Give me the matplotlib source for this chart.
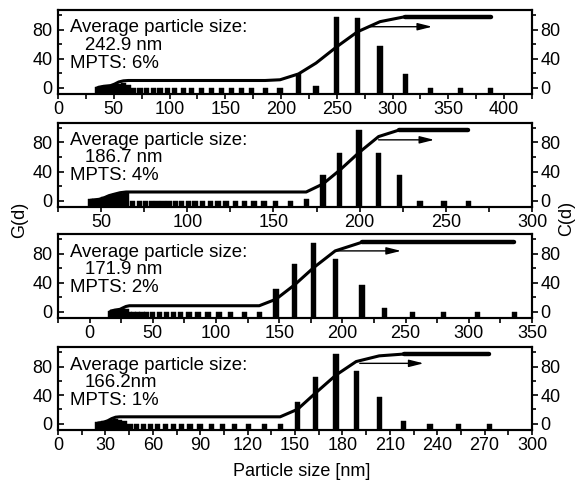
import matplotlib
matplotlib.use("Agg")
import matplotlib.pyplot as plt
from matplotlib.ticker import MultipleLocator

plt.rcParams['font.family'] = ['Liberation Sans', 'DejaVu Sans']

# ---------------- data ----------------
# Panel 1 (MPTS 6%)
g1_x = [35.3, 38.0, 40.8, 43.9, 47.2, 50.7, 54.5, 58.6, 63.0, 67.7, 73.6, 79.6, 85.5,
        91.5, 98.4, 104.3, 112.4, 119.9, 128.9, 137.9, 146.8, 155.8, 164.2, 173.7,
        185.7, 199.1, 215.6, 231.4, 250.0, 268.5, 288.8, 311.3, 334.3, 360.6, 388.1]
g1_y = [1, 2, 2, 3, 3, 4, 5, 6, 4, 0, 0, 0, 0,
        0, 0, 0, 0, 0, 0, 0, 0, 0, 0, 0,
        0, 0, 19, 2.5, 97, 95.6, 58, 19, 0, 0, 0]
c1_x = [35.3, 40.8, 47.2, 50.7, 54.5, 58.6, 63.0, 185.7, 199.1, 215.6, 231.4, 250.0,
        268.5, 288.8, 311.3, 334.3, 360.6, 388.1]
c1_y = [0, 2, 3, 5, 8, 9.5, 10, 10, 11, 19, 34, 56.5, 77, 91, 97.8, 97.8, 97.8, 97.8]

# Panel 2 (MPTS 4%)
g2_x = [43.7, 46.2, 48.9, 51.7, 54.6, 57.7, 61.0, 64.5, 68.3, 72.3, 75.8, 79.1, 82.4,
        85.9, 89.4, 93.2, 96.7, 100.6, 104.5, 108.8, 113.3, 117.8, 122.5, 127.9,
        133.2, 138.7, 144.5, 151.4, 160.0, 169.0, 178.7, 188.5, 199.6, 211.0, 223.0,
        235.0, 249.0, 263.0]
g2_y = [2, 2, 2.5, 5, 7, 9, 9, 10, 0, 0, 0, 0, 0,
        0, 0, 0, 0, 0, 0, 0, 0, 0, 0, 0,
        0, 0, 0, 0, 0, 2, 35.4, 66, 97, 66, 35.4,
        0, 0, 0]
c2_x = [43.7, 48.9, 51.7, 54.6, 57.7, 61.0, 64.5, 169.0, 178.7, 188.5, 199.6, 211.0,
        223.0, 235.0, 249.0, 263.0]
c2_y = [0.5, 2, 4, 7, 9, 11, 12, 12, 23, 42, 66, 88, 97, 97, 97, 97]

# Panel 3 (MPTS 2%)
g3_x = [16.7, 18.3, 20.0, 21.9, 24.0, 26.3, 28.8, 31.5, 34.5, 37.8, 41.4, 45.3, 49.5,
        55.6, 60.9, 66.2, 72.0, 78.6, 85.8, 93.7, 102.4, 111.7, 122.3, 134.2, 147.4,
        162.2, 177.4, 194.3, 215.5, 233.0, 255.4, 279.8, 307.0, 335.9]
g3_y = [1, 2, 2, 2, 2.5, 3, 3, 0, 0, 0, 0, 0, 0,
        0, 0, 0, 0, 0, 0, 0, 0, 0, 0, 0, 30.7,
        66, 95.6, 73, 37, 5, 0, 0, 0, 0]
c3_x = [16.7, 20.0, 24.0, 26.3, 28.8, 31.5, 134.2, 147.4, 162.2, 177.4, 194.3, 215.5,
        233.0, 255.4, 279.8, 307.0, 335.9]
c3_y = [0.5, 2, 3, 5, 7, 8, 8, 17, 37, 61, 84, 96, 96, 96, 96, 96, 96]

# Panel 4 (MPTS 1%)
g4_x = [25.0, 27.0, 29.0, 31.5, 34.0, 36.5, 39.0, 42.0, 45.6, 49.8, 54.0, 58.3, 63.1,
        67.8, 73.0, 78.3, 83.6, 89.9, 96.9, 104.0, 111.6, 120.5, 130.7, 140.6, 151.6,
        162.8, 175.9, 188.7, 203.3, 218.7, 235.4, 253.5, 273.0]
g4_y = [2, 2.5, 3, 4, 5, 6, 5, 3, 0, 0, 0, 0, 0,
        0, 0, 0, 0, 0, 0, 0, 0, 0, 0, 0, 30.7,
        65, 97.6, 73.8, 36.9, 4, 0, 0, 0]
c4_x = [25.0, 29.0, 31.5, 34.0, 36.5, 39.0, 140.6, 151.6, 162.8, 175.9, 188.7, 203.3,
        218.7, 235.4, 253.5, 273.0]
c4_y = [0.5, 2, 4, 7, 9, 9.5, 9.5, 20, 42.5, 68, 87, 95, 97.5, 97.5, 97.5, 97.5]

size_labels = ["242.9 nm", "186.7 nm", "171.9 nm", "166.2nm"]
mpts_labels = ["MPTS: 6%", "MPTS: 4%", "MPTS: 2%", "MPTS: 1%"]

# ---------------- layout / style ----------------
W, H = 579, 484
fig = plt.figure(figsize=(W / 100, H / 100), dpi=100)

left_px, right_px = 58, 532
panel_px = [(10, 94.3), (122.7, 207.3), (234.3, 318.0), (347.3, 430.0)]
xlims = [(0, 425), (25, 300), (-25, 350), (0, 300)]
xmajor = [50, 50, 50, 30]
arrows = [(280, 335.5, 84), (211, 243.3, 83.5), (195, 246.4, 84), (191, 231.4, 84.5)]
YLIM = (-9, 107)
BAR_PX = 5.2
FS = 13
FS_TXT = 13.4

panels = [(g1_x, g1_y, c1_x, c1_y), (g2_x, g2_y, c2_x, c2_y),
          (g3_x, g3_y, c3_x, c3_y), (g4_x, g4_y, c4_x, c4_y)]

for i, ((gx, gy, cx, cy), (top, bot)) in enumerate(zip(panels, panel_px)):
    h_px = bot - top
    ax = fig.add_axes([left_px / W, 1 - bot / H, (right_px - left_px) / W, h_px / H])
    x0, x1 = xlims[i]
    bw = BAR_PX * (x1 - x0) / (right_px - left_px)
    ax.bar(gx, [v - YLIM[0] for v in gy], bottom=YLIM[0], width=bw,
           color='black', edgecolor='black', linewidth=0.3, zorder=2)
    ax.set_xlim(x0, x1)
    ax.set_ylim(*YLIM)
    ax.xaxis.set_major_locator(MultipleLocator(xmajor[i]))
    ax.xaxis.set_minor_locator(MultipleLocator(xmajor[i] / 2))
    ax.yaxis.set_major_locator(MultipleLocator(40))
    ax.yaxis.set_minor_locator(MultipleLocator(20))
    ax.tick_params(axis='y', which='major', direction='in', length=4, width=1.2,
                   labelsize=FS, pad=4)
    ax.tick_params(axis='y', which='minor', direction='in', length=3, width=1.2)
    ax.tick_params(axis='x', which='both', direction='out', length=3.5, width=1.2,
                   labelsize=FS, pad=1.5)
    for s in ax.spines.values():
        s.set_linewidth(1.5)

    ax2 = ax.twinx()
    ax2.set_ylim(*YLIM)
    ax2.yaxis.set_major_locator(MultipleLocator(40))
    ax2.yaxis.set_minor_locator(MultipleLocator(20))
    ax2.tick_params(axis='y', which='major', direction='out', length=4, width=1.2,
                    labelsize=FS, pad=2)
    ax2.tick_params(axis='y', which='minor', direction='out', length=3, width=1.2)
    for s in ax2.spines.values():
        s.set_linewidth(1.5)
    ax2.plot(cx, cy, color='black', lw=2.2, solid_capstyle='round',
             solid_joinstyle='round', zorder=3)
    top_val = max(cy)
    px_ = [x for x, y in zip(cx, cy) if y >= top_val - 0.5]
    py_ = [y for y in cy if y >= top_val - 0.5]
    ax2.plot(px_, py_, color='black', lw=3.2, solid_capstyle='round', zorder=3)

    ax_x0, ax_x1, ay = arrows[i]
    ax2.annotate('', xy=(ax_x1, ay), xytext=(ax_x0, ay),
                 arrowprops=dict(arrowstyle='-|>,head_length=0.8,head_width=0.2',
                                 color='black', lw=1.0, mutation_scale=11,
                                 shrinkA=0, shrinkB=0))

    tx = ax.transAxes
    ax.text((70 - left_px) / (right_px - left_px), 1 - 22.3 / h_px,
            "Average particle size:", transform=tx, fontsize=FS_TXT, va='baseline')
    ax.text((85 - left_px) / (right_px - left_px), 1 - 39.8 / h_px,
            size_labels[i], transform=tx, fontsize=FS_TXT, va='baseline')
    ax.text((69.5 - left_px) / (right_px - left_px), 1 - 57.7 / h_px,
            mpts_labels[i], transform=tx, fontsize=FS_TXT, va='baseline')

fig.text(20 / W, 1 - 220 / H, "G(d)", rotation=90, ha='center', va='center', fontsize=FS)
fig.text(567 / W, 1 - 218 / H, "C(d)", rotation=90, ha='center', va='center', fontsize=FS)
fig.text(301.7 / W, 1 - 472 / H, "Particle size [nm]", ha='center', va='center',
         fontsize=FS)

fig.savefig("out.png", dpi=100)
